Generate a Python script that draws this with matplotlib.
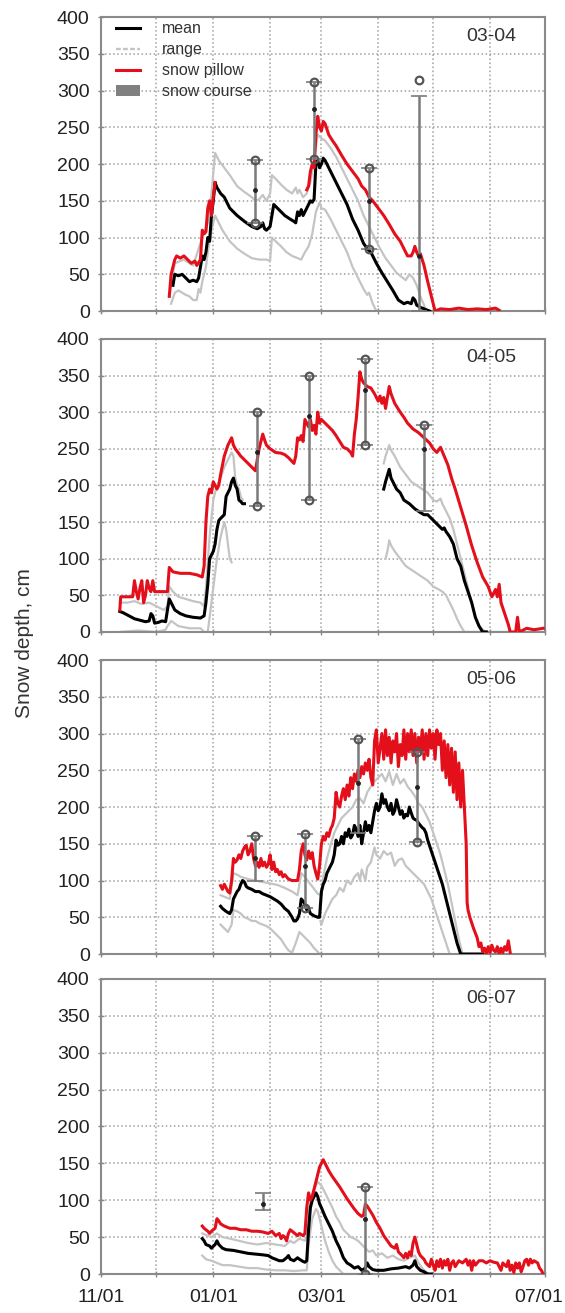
import matplotlib.pyplot as plt
import numpy as np
from matplotlib.lines import Line2D
from matplotlib.patches import Patch

plt.rcParams['font.family'] = ['Liberation Sans', 'DejaVu Sans']

NaN = float('nan')

# x positions are days since 11/01
month_days = [0, 30, 61, 92, 120, 151, 181, 212, 242]
month_labels = ['11/01', '', '01/01', '', '03/01', '', '05/01', '', '07/01']
seasons = ['03-04', '04-05', '05-06', '06-07']

# ---------------- 03-04 ----------------
pillow_0304 = [(37, 20), (38, 50), (40, 70), (41, 75), (43, 72), (45, 75), (47, 70), (49, 65), (51, 68),
               (52, 62), (54, 70), (55, 110), (56, 105), (57, 108), (58, 140), (59, 150), (60, 130),
               (61, 155), (62, 175), (63, NaN),
               (112, 165), (113, 170), (114, 190), (115, 200), (116, 195), (117, 240), (118, 265),
               (119, 250), (120, 245), (121, 258), (122, 255), (124, 240), (126, 232), (128, 225),
               (131, 212), (134, 200), (137, 190), (140, 180), (142, 170), (144, 165), (146, 155),
               (148, 150), (151, 140), (154, 130), (157, 118), (160, 105), (163, 95), (165, 85),
               (167, 75), (169, 75), (170, 80), (171, 88), (172, 80), (173, 75), (174, 78), (176, 62),
               (178, 40), (180, 20), (182, 0), (185, 3), (190, 2), (195, 4), (200, 2), (205, 3),
               (210, 2), (215, 4), (217, 1)]
mean_0304 = [(39, 35), (40, 50), (42, 48), (44, 50), (46, 45), (48, 40), (50, 42), (52, 40), (53, 45),
             (55, 75), (56, 70), (57, 80), (58, 100), (59, 95), (60, 130), (61, 150), (62, 175),
             (63, 168), (65, 160), (67, 155), (70, 140), (74, 130), (78, 122), (82, 115), (85, 112),
             (87, 115), (88, 120), (89, 112), (90, 110), (92, 115), (94, 145), (96, 140), (98, 135),
             (100, 130), (103, 125), (105, 122), (106, 120), (107, 135), (108, 130), (109, 138),
             (110, 130), (112, 140), (114, 150), (115, 148), (116, 152), (117, 200), (118, 205),
             (119, 195), (120, 200), (121, 208), (122, 205), (124, 195), (126, 185), (128, 175),
             (131, 160), (134, 145), (137, 125), (140, 110), (143, 92), (145, 85), (147, 80),
             (150, 65), (153, 52), (156, 40), (159, 28), (162, 15), (165, 10), (167, 12), (169, 10),
             (170, 18), (171, 15), (172, 8), (174, 5), (176, 3), (179, 0)]
rmax_0304 = [(37, 20), (40, 65), (45, 70), (50, 62), (55, 100), (58, 120), (60, 160), (62, 215),
             (64, 205), (67, 195), (70, 185), (74, 170), (78, 162), (82, 155), (84, 150), (86, 152),
             (88, 158), (90, 150), (92, 160), (93, 185), (95, 180), (98, 172), (101, 165), (104, 160),
             (106, 168), (107, 160), (108, 165), (110, 155), (112, 160), (114, 175), (116, 205),
             (118, 240), (120, 235), (122, 232), (125, 222), (128, 210), (131, 195), (134, 180),
             (137, 165), (140, 150), (143, 130), (146, 115), (149, 100), (152, 85), (155, 72),
             (158, 62), (161, 52), (163, 48), (166, 42), (168, 50), (170, 45), (172, 35), (174, 20),
             (176, 8), (177, 0)]
rmin_0304 = [(38, 10), (40, 25), (42, 28), (44, 25), (46, 22), (48, 20), (50, 15), (52, 15), (53, 30),
             (54, 25), (55, 40), (57, 60), (58, 80), (60, 110), (62, 130), (64, 120), (66, 110),
             (70, 95), (74, 85), (78, 78), (82, 72), (86, 70), (90, 70), (92, 68), (93, 100), (95, 95),
             (98, 88), (101, 80), (104, 75), (107, 72), (109, 70), (111, 80), (113, 88), (115, 105),
             (117, 135), (119, 148), (120, 140), (122, 138), (125, 125), (128, 110), (131, 95),
             (134, 80), (137, 60), (140, 45), (143, 30), (145, 22), (146, 25), (148, 10), (150, 0),
             (153, 0)]
# snow course: day, mean, bar low, bar high, min, max
course_0304 = [(84, 165, 120, 205, 120, 205), (116, 275, 207, 312, 207, 312),
               (146, 150, 85, 195, 85, 195), (173, 75, 0, 293, NaN, 315)]

# ---------------- 04-05 ----------------
pillow_0405 = [(10, 30), (10.5, 48), (15, 48), (17, 48), (18, 70), (19, 55), (20, 45), (21, 60), (22, 70),
               (23, 40), (24, 50), (25, 70), (26, 60), (27, 55), (28, 70), (29, 55), (31, 55), (34, 55),
               (36, 55), (37, 88), (39, 82), (43, 80), (48, 80), (52, 78), (55, 75), (56, 90), (57, 150),
               (58, 185), (59, 195), (60, 190), (61, 205), (62, 200), (63, 195), (64, 200), (65, 215),
               (67, 240), (69, 255), (71, 265), (72, 255), (73, 250), (76, 240), (80, 230), (84, 220),
               (85, 235), (86, 250), (88, 270), (89, 262), (90, 255), (92, 250), (95, 245), (98, 244),
               (100, 242), (102, 238), (105, 230), (106, 240), (107, 265), (108, 262), (109, 268),
               (110, 260), (111, 290), (112, 285), (113, 280), (114, 290), (115, 275), (116, 282),
               (117, 270), (118, 300), (119, 285), (120, 290), (122, 285), (124, 280), (126, 275),
               (128, 268), (130, 260), (132, 252), (134, 250), (136, 245), (137, 240), (138, 270),
               (139, 290), (140, 320), (141, 355), (142, 345), (143, 340), (145, 335), (147, 333),
               (149, 325), (151, 315), (152, 322), (153, 312), (154, 320), (155, 305), (156, 320),
               (157, 335), (158, 325), (160, 312), (163, 300), (165, 293), (167, 285), (170, 277),
               (173, 272), (176, 265), (179, 258), (181, 250), (183, 245), (185, 252), (187, 240),
               (189, 228), (191, 210), (193, 195), (196, 170), (199, 145), (202, 118), (205, 95),
               (208, 75), (211, 62), (213, 48), (215, 58), (216, 48), (217, 65), (218, 40), (220, 25),
               (222, 10), (223, 0), (226, 0), (227, 20), (228, 0), (232, 5), (236, 3), (241, 5)]
mean_0405 = [(10, 28), (12, 26), (15, 22), (18, 18), (21, 16), (24, 14), (26, 15), (27, 25), (28, 22),
             (29, 12), (31, 13), (33, 15), (35, 14), (36, 30), (37, 45), (38, 40), (40, 30), (43, 25),
             (46, 22), (50, 20), (54, 19), (56, 22), (57, 40), (58, 65), (59, 100), (60, 105), (61, 110),
             (62, 120), (63, 140), (64, 152), (65, 155), (67, 160), (68, 185), (69, 190), (70, 195),
             (71, 205), (72, 210), (73, 200), (74, 195), (75, 180), (76, 178), (77, 175), (78, 175),
             (79, NaN),
             (154, 195), (155, 205), (157, 222), (158, 210), (159, 205), (161, 195), (163, 190),
             (165, 180), (168, 175), (171, 168), (174, 163), (176, 160), (178, 160), (180, 155),
             (182, 150), (184, 145), (186, 140), (187, 142), (188, 137), (190, 130), (192, 120),
             (194, 100), (196, 90), (198, 70), (200, 55), (202, 40), (204, 20), (206, 8), (208, 0),
             (210, 0)]
rmax_0405 = [(10, 40), (14, 40), (18, 42), (22, 38), (26, 40), (30, 35), (34, 30), (36, 35), (37, 62),
             (39, 55), (42, 48), (46, 45), (50, 42), (54, 40), (56, 35), (57, 60), (59, 130), (61, 180),
             (63, 200), (65, 210), (67, 225), (69, 235), (71, 245), (72, 240), (73, 210), (74, 200),
             (75, 195), (76, 185), (77, 180), (78, NaN),
             (154, 230), (155, 240), (157, 255), (158, 248), (160, 240), (163, 225), (166, 215),
             (169, 205), (172, 200), (175, 195), (178, 190), (181, 180), (183, 178), (185, 182),
             (186, 175), (188, 165), (190, 155), (192, 140), (194, 120), (196, 100), (198, 80),
             (200, 60), (202, 40), (204, 20), (206, 8), (208, 3), (210, 0)]
rmin_0405 = [(10, 0), (20, 2), (30, 0), (35, 3), (36, 8), (38, 15), (42, 8), (48, 5), (54, 5), (56, 0),
             (58, 0), (59, 20), (60, 40), (61, 60), (63, 100), (65, 130), (67, 150), (68, 140),
             (69, 120), (70, 100), (71, 95), (72, NaN),
             (155, 100), (156, 110), (157, 125), (158, 118), (160, 110), (163, 100), (166, 90),
             (169, 85), (172, 80), (175, 75), (178, 70), (181, 62), (184, 58), (186, 55), (188, 50),
             (190, 40), (192, 30), (194, 18), (196, 8), (198, 0), (208, 0), (222, 0)]
course_0405 = [(85, 245, 172, 300, 172, 300), (113, 295, 180, 350, 180, 350),
               (144, 330, 255, 373, 255, 373), (176, 250, 165, 283, NaN, 283)]

# ---------------- 05-06 ----------------
pillow_0506 = [(65, 93), (66, 88), (67, 95), (68, 90), (69, 85), (70, 83), (71, 100), (72, 130), (73, 125),
               (74, 128), (75, 135), (76, 130), (77, 140), (78, 145), (79, 148), (80, 135), (81, 140),
               (82, 150), (83, 130), (84, 120), (85, 125), (86, 118), (87, 130), (88, 120), (89, 125),
               (90, 118), (91, 122), (92, 135), (93, 115), (94, 125), (95, 112), (96, 115), (97, 108),
               (98, 112), (99, 105), (100, 108), (102, 102), (104, 100), (106, 100), (107, 100),
               (108, 115), (109, 140), (110, 150), (111, 135), (112, 128), (113, 140), (114, 130),
               (115, 138), (116, 120), (117, 110), (118, 102), (119, 120), (120, 150), (121, 160),
               (122, 155), (123, 165), (124, 160), (125, 170), (126, 175), (127, 185), (128, 220),
               (129, 205), (130, 200), (131, 215), (132, 225), (133, 210), (134, 230), (135, 215),
               (136, 240), (137, 225), (138, 245), (139, 235), (140, 250), (141, 240), (142, 255),
               (143, 245), (144, 260), (145, 250), (146, 265), (147, 240), (148, 230), (149, 290),
               (150, 305), (151, 260), (152, 280), (153, 300), (154, 265), (155, 305), (156, 270),
               (157, 295), (158, 260), (159, 290), (160, 275), (161, 300), (162, 255), (163, 285),
               (164, 270), (165, 305), (166, 265), (167, 300), (168, 275), (169, 305), (170, 270),
               (171, 300), (172, 260), (173, 295), (174, 275), (175, 305), (176, 265), (177, 300),
               (178, 270), (179, 305), (180, 280), (181, 300), (182, 265), (183, 305), (184, 285),
               (185, 300), (186, 250), (187, 290), (188, 240), (189, 285), (190, 230), (191, 280),
               (192, 220), (193, 275), (194, 210), (195, 260), (196, 200), (197, 250), (198, 200),
               (199, 150), (199.5, 70), (200, 60), (201, 50), (203, 35), (205, 22), (206, 10),
               (207, 15), (208, 3), (209, 8), (210, 0), (211, 10), (212, 2), (213, 12), (214, 5),
               (215, 3), (216, 10), (217, 0), (218, 8), (219, 2), (220, 10), (221, 5), (222, 18),
               (223, 2)]
mean_0506 = [(65, 65), (66, 62), (68, 58), (70, 55), (71, 60), (72, 75), (73, 80), (74, 85), (75, 88),
             (76, 95), (77, 100), (78, 98), (79, 92), (80, 90), (82, 88), (84, 85), (86, 85), (88, 82),
             (90, 80), (92, 78), (94, 75), (96, 72), (98, 68), (100, 62), (102, 58), (104, 50),
             (105, 45), (106, 45), (107, 48), (108, 55), (109, 75), (110, 72), (111, 68), (112, 60),
             (113, 62), (114, 55), (116, 52), (118, 50), (119, 50), (120, 85), (121, 95), (122, 100),
             (123, 110), (124, 115), (125, 120), (126, 125), (127, 135), (128, 155), (129, 148),
             (130, 150), (131, 160), (132, 150), (133, 165), (134, 160), (135, 170), (136, 158),
             (137, 162), (138, 175), (139, 170), (140, 160), (141, 175), (142, 150), (143, 165),
             (144, 180), (145, 168), (146, 175), (147, 165), (148, 180), (149, 195), (150, 205),
             (151, 195), (152, 200), (153, 218), (154, 205), (155, 210), (156, 200), (157, 195),
             (158, 205), (159, 190), (160, 195), (161, 210), (162, 200), (163, 190), (164, 195),
             (165, 185), (166, 190), (167, 188), (168, 200), (169, 192), (170, 185), (171, 183),
             (172, 182), (173, 178), (174, 175), (175, 172), (176, 170), (177, 165), (178, 155),
             (180, 140), (182, 125), (184, 110), (186, 95), (188, 75), (190, 55), (192, 35),
             (194, 15), (196, 0), (208, 0)]
rmax_0506 = [(65, 80), (67, 78), (70, 75), (72, 110), (74, 108), (76, 105), (80, 102), (84, 100),
             (88, 98), (92, 96), (96, 94), (100, 90), (104, 85), (107, 80), (109, 110), (111, 105),
             (113, 98), (115, 92), (118, 82), (120, 80), (121, 105), (123, 130), (125, 148), (127, 165),
             (129, 175), (131, 185), (133, 190), (135, 195), (137, 200), (139, 210), (141, 212),
             (143, 205), (145, 220), (147, 228), (149, 235), (151, 240), (153, 245), (155, 235),
             (157, 248), (159, 230), (161, 245), (163, 232), (165, 238), (167, 228), (169, 222),
             (171, 215), (173, 205), (175, 200), (177, 190), (179, 180), (181, 165), (183, 150),
             (185, 135), (187, 115), (189, 95), (191, 70), (193, 45), (195, 20), (197, 0)]
rmin_0506 = [(65, 40), (67, 35), (69, 30), (71, 40), (72, 60), (74, 58), (76, 55), (78, 50), (80, 48),
             (82, 45), (84, 45), (86, 42), (88, 40), (90, 38), (92, 35), (94, 30), (96, 25), (98, 20),
             (100, 12), (102, 5), (104, 2), (106, 15), (108, 30), (110, 25), (112, 20), (114, 15),
             (116, 8), (118, 3), (119, 0), (119.2, NaN),
             (119.5, 45), (120, 40), (122, 55), (124, 65), (126, 75), (128, 80), (130, 90), (132, 85),
             (134, 100), (136, 95), (138, 105), (140, 110), (141, 100), (142, 115), (144, 100),
             (145, 118), (147, 125), (149, 145), (150, 135), (152, 130), (154, 140), (156, 135),
             (158, 138), (160, 120), (162, 128), (164, 130), (166, 120), (168, 115), (170, 110),
             (172, 105), (174, 100), (176, 95), (178, 85), (180, 75), (182, 60), (184, 45), (186, 30),
             (188, 15), (190, 0)]
course_0506 = [(84, 130, 100, 160, NaN, 160), (111, 120, 62, 163, 62, 163),
               (140, 233, 165, 292, NaN, 292), (172, 227, 152, 275, 152, 275)]

# ---------------- 06-07 ----------------
pillow_0607 = [(55, 65), (56, 62), (57, 60), (58, 58), (59, 55), (60, 58), (62, 62), (63, 75), (64, 72),
               (65, 68), (67, 65), (70, 62), (73, 62), (76, 60), (79, 60), (82, 58), (85, 58), (88, 57),
               (91, 55), (93, 58), (95, 52), (97, 55), (98, 48), (99, 52), (100, 50), (101, 45),
               (102, 55), (103, 60), (104, 58), (105, 56), (107, 52), (108, 55), (110, 52), (111, 55),
               (112, 90), (113, 110), (114, 100), (115, 105), (116, 115), (117, 125), (118, 135),
               (119, 145), (120, 150), (121, 155), (122, 150), (124, 140), (126, 132), (128, 125),
               (130, 118), (132, 110), (134, 102), (136, 95), (138, 88), (140, 82), (142, 78), (143, 80),
               (144, 95), (145, 92), (146, 88), (148, 80), (150, 70), (152, 62), (154, 52), (156, 45),
               (158, 38), (160, 35), (161, 40), (162, 30), (164, 25), (165, 22), (166, 28), (167, 22),
               (168, 30), (169, 25), (170, 42), (171, 50), (172, 40), (173, 30), (174, 25), (176, 20),
               (177, 15), (179, 10), (180, 20), (181, 12), (182, 5), (183, 18), (184, 10), (185, 20),
               (186, 8), (187, 18), (188, 12), (189, 20), (190, 5), (191, 15), (192, 18), (193, 10),
               (195, 18), (197, 15), (199, 20), (200, 12), (201, 18), (202, 5), (203, 18), (204, 12),
               (206, 18), (208, 18), (210, 15), (212, 18), (214, 16), (216, 15), (218, 5), (219, 15),
               (221, 10), (222, 18), (223, 5), (224, 12), (225, 2), (226, 15), (227, 8), (228, 15),
               (229, 3), (230, 10), (231, 18), (232, 20), (233, 12), (234, 20), (235, 15), (236, 18),
               (238, 15), (239, 8), (240, 5), (241, 0)]
mean_0607 = [(55, 48), (56, 45), (57, 40), (59, 38), (60, 35), (62, 40), (63, 45), (64, 40), (66, 35),
             (68, 33), (72, 32), (76, 30), (80, 28), (84, 27), (88, 26), (91, 25), (93, 22), (95, 20),
             (97, 18), (99, 18), (101, 22), (102, 25), (103, 20), (105, 18), (107, 22), (108, 20),
             (110, 17), (111, 16), (112, 18), (113, 60), (114, 90), (115, 100), (117, 110), (118, 105),
             (119, 95), (120, 90), (122, 78), (124, 68), (126, 58), (128, 45), (130, 35), (132, 22),
             (134, 15), (136, 12), (138, 8), (140, 10), (142, 5), (144, 8), (145, 15), (146, 10),
             (148, 6), (150, 5), (154, 5), (158, 7), (162, 8), (166, 10), (168, 8), (170, 12),
             (171, 18), (172, 10), (174, 5), (176, 3), (178, 0), (180, 0)]
rmax_0607 = [(55, 55), (58, 52), (60, 50), (63, 55), (66, 50), (70, 48), (75, 45), (80, 42), (85, 40),
             (90, 42), (95, 40), (100, 38), (103, 45), (105, 42), (108, 48), (111, 45), (112, 52),
             (114, 100), (116, 115), (118, 125), (120, 120), (122, 110), (124, 100), (126, 90),
             (128, 78), (130, 70), (132, 60), (134, 55), (136, 50), (138, 48), (140, 45), (142, 40),
             (144, 35), (146, 30), (148, 32), (150, 25), (153, 28), (156, 22), (159, 25), (162, 20),
             (165, 18), (168, 22), (171, 25), (173, 15), (175, 8), (177, 3), (179, 0)]
rmin_0607 = [(55, 25), (57, 20), (60, 18), (63, 15), (66, 12), (70, 12), (75, 10), (80, 8), (85, 8),
             (90, 6), (95, 5), (100, 5), (105, 4), (110, 5), (112, 5), (113, 40), (115, 75), (117, 88),
             (118, 85), (120, 65), (122, 45), (124, 30), (126, 18), (128, 10), (130, 5), (132, 0),
             (140, 0)]
course_0607 = [(88, 95, 87, 110, NaN, NaN), (144, 75, 0, 118, 0, 118)]

pillow = [pillow_0304, pillow_0405, pillow_0506, pillow_0607]
means = [mean_0304, mean_0405, mean_0506, mean_0607]
rmaxs = [rmax_0304, rmax_0405, rmax_0506, rmax_0607]
rmins = [rmin_0304, rmin_0405, rmin_0506, rmin_0607]
courses = [course_0304, course_0405, course_0506, course_0607]

RED = '#e3101c'
RANGE = '#c4c4c4'
COURSE = '#7a7a7a'

fig = plt.figure(figsize=(5.65, 13.13), dpi=100)
bottoms = [0.7631, 0.5187, 0.2734, 0.0297]
heights = [0.2239, 0.2232, 0.2239, 0.2247]

for i in range(4):
    ax = fig.add_axes([0.1796, bottoms[i], 0.785, heights[i]])

    for series in (rmaxs[i], rmins[i]):
        d = np.array(series)
        ax.plot(d[:, 0], d[:, 1], color=RANGE, lw=1.6, zorder=2)
    d = np.array(means[i])
    ax.plot(d[:, 0], d[:, 1], color='black', lw=2.2, zorder=3)
    d = np.array(pillow[i])
    ax.plot(d[:, 0], d[:, 1], color=RED, lw=2.2, zorder=4)

    c = np.array(courses[i])
    ax.errorbar(c[:, 0], c[:, 1], yerr=[c[:, 1] - c[:, 2], c[:, 3] - c[:, 1]],
                fmt='o', ms=2.5, color='#222222', ecolor=COURSE, elinewidth=1.8,
                capsize=6, capthick=1.2, zorder=5)
    for col in (4, 5):
        ax.plot(c[:, 0], c[:, col], 'o', ms=5.5, mfc='none', mec='#555555', mew=1.6, zorder=6)

    ax.set_xlim(0, 242)
    ax.set_ylim(0, 400)
    ax.set_yticks(np.arange(0, 401, 50))
    ax.set_xticks(month_days)
    if i == 3:
        # last date label is placed by hand so it stays inside the figure
        ax.set_xticklabels(month_labels[:-1] + [''])
        ax.annotate(month_labels[-1], xy=(month_days[-1], 0), xycoords=('data', 'axes fraction'),
                    xytext=(-4.5, -10.5), textcoords='offset points', ha='center', va='top',
                    fontsize=14, color='#222222', annotation_clip=False)
    else:
        ax.set_xticklabels([])
    ax.grid(True, linestyle=':', color='#a0a0a0', lw=1.1)
    ax.tick_params(axis='both', labelsize=14, labelcolor='#222222', color='#888888',
                   direction='inout', length=5, width=1)
    ax.tick_params(axis='y', pad=6)
    ax.tick_params(axis='x', pad=8)
    for s in ax.spines.values():
        s.set_color('#8a8a8a')
        s.set_linewidth(1.5)

    ax.text(0.878, 0.935, seasons[i], transform=ax.transAxes, ha='center', va='center',
            fontsize=14, color='#333333')

    if i == 0:
        handles = [Line2D([], [], color='black', lw=2.2),
                   Line2D([], [], color=RANGE, lw=1.7, ls=(0, (2, 1))),
                   Line2D([], [], color=RED, lw=2.2),
                   Patch(facecolor='#808080', edgecolor='none')]
        ax.legend(handles, ['mean', 'range', 'snow pillow', 'snow course'], loc='upper left',
                  bbox_to_anchor=(0.0, 1.035), frameon=False, fontsize=11.5,
                  handlelength=1.5, handleheight=0.7, handletextpad=1.4,
                  labelspacing=0.38, labelcolor='#333333')

fig.text(0.0425, 0.510, 'Snow depth, cm', rotation=90, ha='center', va='center',
         fontsize=15, color='#333333')

fig.savefig('out.png', dpi=100)
